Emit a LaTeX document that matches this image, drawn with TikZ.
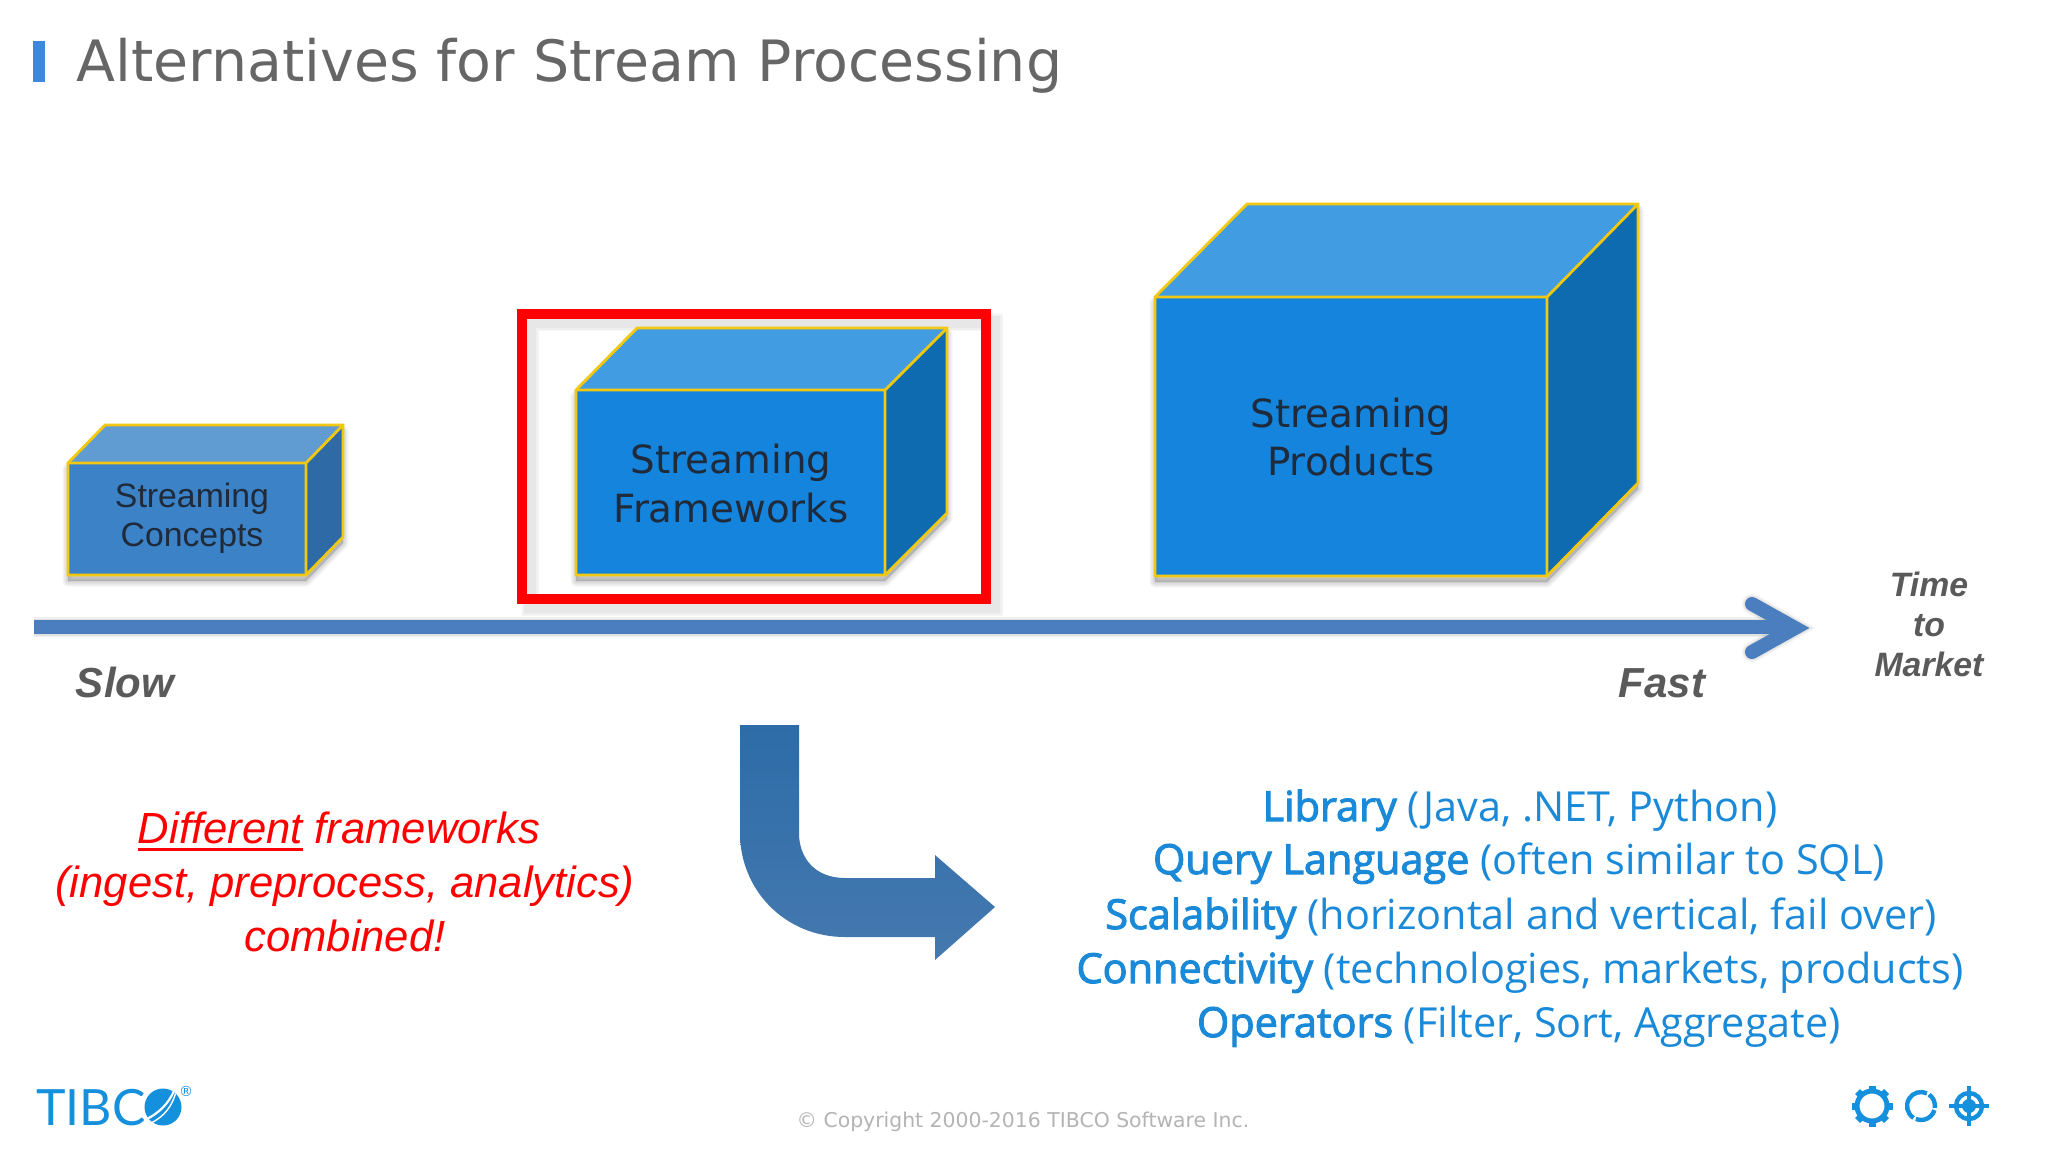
\documentclass[tikz,border=0pt]{standalone}
\usepackage{fontspec}
\setmainfont{DejaVu Sans}
\newfontfamily\arialf{Liberation Sans}
\newfontfamily\opensf{Open Sans}
\newfontfamily\opensfb[FakeBold=2.5]{Open Sans}
\newfontfamily\latof{Lato}
\usetikzlibrary{calc}
\definecolor{ttl}{HTML}{666666}
\definecolor{barb}{HTML}{3F87DB}
\definecolor{axisb}{HTML}{4A7EBE}
\definecolor{tib}{HTML}{1490DC}
\definecolor{edgey}{HTML}{F2C811}
\definecolor{txtd}{HTML}{1F2A3A}
\definecolor{fbright}{HTML}{1584DC}
\definecolor{tbright}{HTML}{429CE2}
\definecolor{sbright}{HTML}{0E6BB0}
\definecolor{fdull}{HTML}{3C82C6}
\definecolor{tdull}{HTML}{609CD2}
\definecolor{sdull}{HTML}{2E6BA6}
\definecolor{labelg}{HTML}{5A5A5A}
\definecolor{lowb}{HTML}{1A8AD8}
\definecolor{cpy}{HTML}{B4B4B4}
\definecolor{benttop}{HTML}{2D6CA8}
\definecolor{bentbot}{HTML}{4579AF}
\newcommand{\softshade}[2][(0,0)]{%
  \foreach \w in {11,8,5,2}{%
    \draw[shift={#1},black,opacity=.045,line width=\w*0.5pt,line join=round,fill=black] #2;}}
\newcommand{\ulr}[1]{\setbox0=\hbox{#1}\rlap{\rule[-3.8pt]{\wd0}{1.4pt}}\box0\relax}
% left right top bottom backleft backtop backright sidebottom colour-suffix
\newcommand{\mycube}[9]{%
  \softshade[(0,6)]{(#1,#3)--(#1,#4)--(#2,#4)--(#7,#8)--(#7,#6)--(#5,#6)--cycle}
  \fill[f#9] (#1,#3) rectangle (#2,#4);
  \fill[t#9] (#1,#3)--(#5,#6)--(#7,#6)--(#2,#3)--cycle;
  \fill[s#9] (#2,#3)--(#7,#6)--(#7,#8)--(#2,#4)--cycle;
  \draw[cubeedge] (#1,#3)--(#5,#6)--(#7,#6)--(#7,#8)--(#2,#4)--(#1,#4)--cycle;
  \draw[cubeedge] (#1,#3)--(#2,#3)--(#2,#4) (#2,#3)--(#7,#6);}
\tikzset{
  cubeedge/.style={draw=edgey,line width=1.4pt,line join=miter},
  vtxt/.style={anchor=base,inner sep=0,font=\fontsize{19.4pt}{22pt}\selectfont,text=txtd},
  atxt/.style={anchor=base,inner sep=0,font=\arialf\fontsize{16.9pt}{20pt}\selectfont,text=txtd},
  lbl/.style={anchor=base,inner sep=0,text=labelg,font=\arialf\bfseries\itshape\fontsize{21pt}{24pt}\selectfont},
  lbls/.style={lbl,font=\arialf\bfseries\itshape\fontsize{16.9pt}{20pt}\selectfont},
  lowtxt/.style={anchor=base,inner sep=0,text=lowb,font=\opensf\fontsize{20.7pt}{24pt}\selectfont},
  redtxt/.style={anchor=base,inner sep=0,text=red,font=\arialf\itshape\fontsize{21.8pt}{24pt}\selectfont},
  axisl/.style={draw=axisb,line width=7pt},
  icon/.style={draw=tib},
}
\begin{document}
\begin{tikzpicture}[x=0.5pt,y=-0.5pt]
\useasboundingbox (0,0) rectangle (2048,1152);
\fill[white] (0,0) rectangle (2048,1152);
% title
\fill[barb] (33,41) rectangle (45,82);
\node[anchor=base west,inner sep=0,text=ttl,font=\fontsize{28.5pt}{34pt}\selectfont] (title) at (76,81) {Alternatives for Stream Processing};
% red frame shadow
\foreach \w in {18,15,12}{\draw[black,opacity=.03,line width=\w*0.5pt] (530,322) rectangle (994,607);}
% cubes
\mycube{68}{306}{463}{575}{105}{425}{343}{537}{dull}
\mycube{576}{885}{390}{575}{637}{328}{947}{513}{bright}
\mycube{1155}{1547}{297}{576}{1247}{204}{1638}{483}{bright}
\draw[red,line width=5pt] (522,314) rectangle (986,599);
% cube labels
\node[atxt] (c1) at (192,507) {Streaming};
\node[atxt] (c2) at (192,546) {Concepts};
\node[vtxt] (f1) at (731,473) {Streaming};
\node[vtxt] (f2) at (731,522) {Frameworks};
\node[vtxt] (p1) at (1351,427) {Streaming};
\node[vtxt] (p2) at (1351,475) {Products};
% axis
\coordinate (axs) at (34,627);
\coordinate (axe) at (1790,627);
\coordinate (axu) at (1752,604);
\coordinate (axl) at (1752,652);
\coordinate (axt) at (1795,628);
\foreach \w in {6,3,0}{
  \draw[black,opacity=.06,line width=\w*0.5pt+7pt,shift={(0,7)}] (axs)--(axe);
  \draw[black,opacity=.05,line width=\w*0.5pt+7pt,line cap=round,shift={(0,7)}] (axu)--(axt)--(axl);}
\draw[axisl] (axs)--(axe);
\draw[axisl,line cap=round,line join=miter] (axu)--(axt)--(axl);
\node[lbl] (slow) at (125,697) {Slow};
\node[lbl] (fast) at (1662,697) {Fast};
\node[lbls] (ttm1) at (1929,596) {Time};
\node[lbls] (ttm2) at (1929,636) {to};
\node[lbls] (ttm3) at (1929,676) {Market};
% bent arrow
\shade[top color=benttop,bottom color=bentbot]
 (740,725)--(799,725)--(799,833) .. controls (799,858) and (815,878) .. (845,878)
 --(935,878)--(935,855)--(995,907)--(935,960)--(935,937)--(845,937)
 .. controls (785,937) and (740,890) .. (740,833)--cycle;
% red text
\node[redtxt] (r1) at (339,843) {\ulr{Different} frameworks};
\node[redtxt] (r2) at (345,897) {(ingest, preprocess, analytics)};
\node[redtxt] (r3) at (345,951) {combined!};
% blue text
\node[lowtxt] (l1) at (1520,821) {{\opensfb Library} (Java, .NET, Python)};
\node[lowtxt] (l2) at (1519,874) {{\opensfb Query Language} (often similar to SQL)};
\node[lowtxt] (l3) at (1521,929) {{\opensfb Scalability} (horizontal and vertical, fail over)};
\node[lowtxt] (l4) at (1520,983) {{\opensfb Connectivity} (technologies, markets, products)};
\node[lowtxt] (l5) at (1519,1037) {{\opensfb Operators} (Filter, Sort, Aggregate)};
% copyright
\node[anchor=base,inner sep=0,text=cpy,font=\fontsize{10.2pt}{12pt}\selectfont] (copy) at (1023,1127) {© Copyright 2000-2016 TIBCO Software Inc.};
% logo
\node[anchor=base west,inner sep=0,text=tib,font=\latof\fontsize{25pt}{30pt}\selectfont] (tibco) at (36,1125) {TIBC};
\fill[tib] (163,1107) circle (18.5);
\draw[white,line width=1.1pt] (147,1119) .. controls (160,1112) and (168,1104) .. (174,1091);
\draw[white,line width=0.7pt] (151,1123) .. controls (165,1116) and (172,1106) .. (176,1092);
\node[inner sep=0,text=tib,font=\fontsize{7pt}{8pt}\selectfont] (reg) at (186,1091) {®};
% icons
\draw[icon,line width=2.5pt] (1872,1106) circle (15);
\foreach \a in {0,45,...,315}{\fill[tib,shift={(1872,1106)},rotate=\a] (-3.5,-20.5) rectangle (3.5,-15);}
\draw[icon,line width=2.2pt] (1921,1106) ++(122:14) arc[start angle=122,end angle=295,radius=14];
\draw[icon,line width=2.2pt] (1921,1106) ++(-55:14) arc[start angle=-55,end angle=8,radius=14];
\draw[icon,line width=2.2pt] (1921,1106) ++(17:14) arc[start angle=17,end angle=112,radius=14];
\draw[icon,line width=2.2pt] (1969,1106) circle (13);
\fill[tib] (1969,1106) circle (7);
\draw[icon,line width=1.6pt] (1949,1106)--(1989,1106) (1969,1086)--(1969,1126);
\end{tikzpicture}
\end{document}
